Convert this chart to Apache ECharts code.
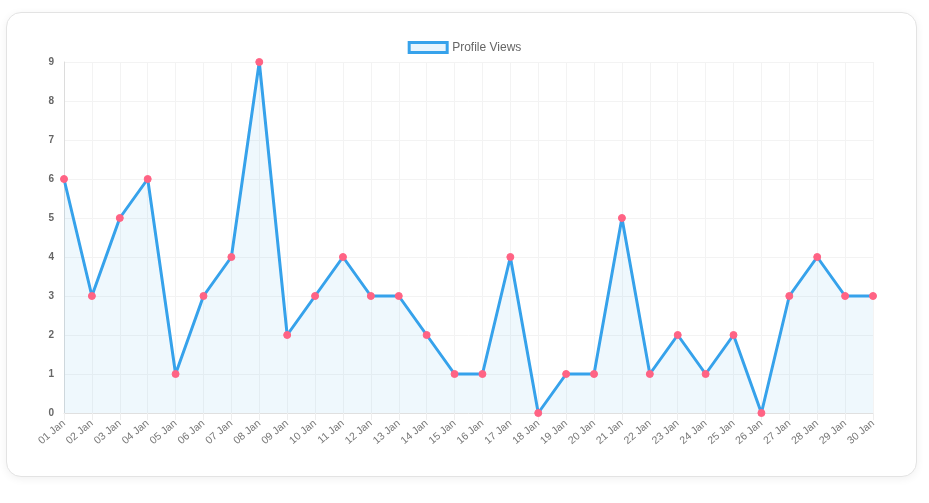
<!DOCTYPE html>
<html>
<head>
<meta charset="utf-8">
<script src="https://cdn.jsdelivr.net/npm/echarts@6/dist/echarts.min.js"></script>
<style>
  html, body { margin: 0; padding: 0; background: #fff; }
  .card {
    position: absolute; left: 6px; top: 12px; width: 909px; height: 463px;
    border: 1px solid #e3e3e3; border-radius: 15px; background: #fff;
    box-shadow: 0 2px 8px rgba(0,0,0,0.06);
  }
  #chart { position: absolute; left: 0; top: 0; width: 929px; height: 503px; }
</style>
</head>
<body>
<div class="card"></div>
<div id="chart"></div>
<script>
const days = ['01 Jan', '02 Jan', '03 Jan', '04 Jan', '05 Jan', '06 Jan', '07 Jan', '08 Jan', '09 Jan', '10 Jan',
  '11 Jan', '12 Jan', '13 Jan', '14 Jan', '15 Jan', '16 Jan', '17 Jan', '18 Jan', '19 Jan', '20 Jan',
  '21 Jan', '22 Jan', '23 Jan', '24 Jan', '25 Jan', '26 Jan', '27 Jan', '28 Jan', '29 Jan', '30 Jan']
const views = [6, 3, 5, 6, 1, 3, 4, 9, 2, 3, 4, 3, 3, 2, 1, 1, 4, 0, 1, 1, 5, 1, 2, 1, 2, 0, 3, 4, 3, 3]

const myChart = echarts.init(document.getElementById('chart'))
myChart.setOption({
  animation: false,
  legend: {
    top: 36,
    left: 'center',
    icon: 'rect',
    itemWidth: 38,
    itemHeight: 10,
    itemGap: 6,
    textStyle: { color: '#666', fontSize: 12, fontFamily: 'Liberation Sans, Arial' },
    data: [{
      name: 'Profile Views',
      itemStyle: { color: 'rgba(54,162,235,0.12)', borderColor: '#36A2EB', borderWidth: 3 },
      lineStyle: { opacity: 0 }
    }]
  },
  grid: { left: 64, right: 56, top: 62, bottom: 90, containLabel: false },
  xAxis: {
    type: 'category',
    boundaryGap: false,
    data: days,
    axisLine: { lineStyle: { color: '#e0e0e0' } },
    axisTick: { show: true, length: 7, lineStyle: { color: '#eeeeee' } },
    axisLabel: { rotate: 40, fontSize: 10.5, color: '#777', margin: 9, fontFamily: 'Liberation Sans, Arial' },
    splitLine: { show: true, lineStyle: { color: '#f3f3f3' } }
  },
  yAxis: {
    type: 'value',
    min: 0,
    max: 9,
    interval: 1,
    axisLine: { show: true, lineStyle: { color: '#dcdcdc' } },
    axisTick: { show: false },
    axisLabel: { fontSize: 10, color: '#666', fontWeight: 'bold', margin: 10, fontFamily: 'Liberation Sans, Arial' },
    splitLine: { lineStyle: { color: '#f3f3f3' } }
  },
  series: [{
    name: 'Profile Views',
    type: 'line',
    data: views,
    symbol: 'circle',
    symbolSize: 7,
    lineStyle: { color: '#36A2EB', width: 3 },
    itemStyle: { color: '#FF6384', borderColor: '#FF6384' },
    areaStyle: { color: 'rgba(54,162,235,0.11)' },
    z: 3
  }]
})
</script>
</body>
</html>
